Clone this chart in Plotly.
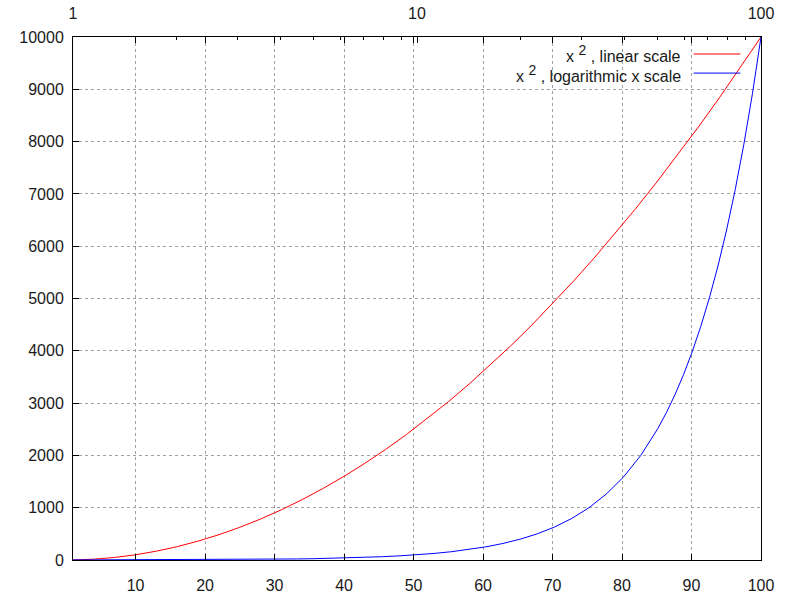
import plotly.graph_objects as go

# Red series: x^2 on the linear (bottom) x axis
lin_x = [1, 4, 7, 10, 13, 16, 19, 22, 25, 28, 31, 34, 37, 40, 43, 46, 49, 52, 55,
         58, 61, 64, 67, 70, 73, 76, 79, 82, 85, 88, 91, 94, 97, 100]
lin_y = [1, 16, 49, 100, 169, 256, 361, 484, 625, 784, 961, 1156, 1369, 1600, 1849,
         2116, 2401, 2704, 3025, 3364, 3721, 4096, 4489, 4900, 5329, 5776, 6241,
         6724, 7225, 7744, 8281, 8836, 9409, 10000]

# Blue series: x^2 on the logarithmic (top) x axis
log_x = [1, 1.122, 1.259, 1.413, 1.585, 1.778, 1.995, 2.239, 2.512, 2.818, 3.162,
         3.548, 3.981, 4.467, 5.012, 5.623, 6.310, 7.079, 7.943, 8.913, 10,
         11.22, 12.59, 14.13, 15.85, 17.78, 19.95, 22.39, 25.12, 28.18, 31.62,
         35.48, 39.81, 44.67, 50.12, 53.09, 56.23, 59.57, 63.10, 66.83, 70.79,
         74.99, 79.43, 84.14, 89.13, 94.41, 100]
log_y = [1, 1.259, 1.585, 1.995, 2.512, 3.162, 3.981, 5.012, 6.310, 7.943, 10,
         12.59, 15.85, 19.95, 25.12, 31.62, 39.81, 50.12, 63.10, 79.43, 100,
         125.9, 158.5, 199.5, 251.2, 316.2, 398.1, 501.2, 631.0, 794.3, 1000,
         1259, 1585, 1995, 2512, 2818, 3162, 3548, 3981, 4467, 5012,
         5623, 6310, 7079, 7943, 8913, 10000]

bottom_ticks = [10, 20, 30, 40, 50, 60, 70, 80, 90, 100]
top_ticks = [1, 10, 100]
top_minor = [2, 3, 4, 5, 6, 7, 8, 9, 20, 30, 40, 50, 60, 70, 80, 90]
y_ticks = [0, 1000, 2000, 3000, 4000, 5000, 6000, 7000, 8000, 9000, 10000]

legend_labels = ["x <sup><span style='font-size:14px'>2</span></sup> , linear scale",
                 "x <sup><span style='font-size:14px'>2</span></sup> , logarithmic x scale"]
colors = ["#ff0000", "#0000ff"]

FONT = "Liberation Sans, Arial, sans-serif"
GRID = "#a0a0a0"
TXT = "#1a1a1a"
tickfont = dict(family=FONT, size=16, color=TXT)

fig = go.Figure()
fig.add_trace(go.Scatter(x=lin_x, y=lin_y, mode="lines", xaxis="x", yaxis="y",
                         line=dict(color=colors[0], width=1), showlegend=False))
fig.add_trace(go.Scatter(x=log_x, y=log_y, mode="lines", xaxis="x2", yaxis="y",
                         line=dict(color=colors[1], width=1), showlegend=False))

fig.update_layout(
    width=800, height=600,
    margin=dict(l=73, r=39, t=37, b=40, autoexpand=False),
    paper_bgcolor="white", plot_bgcolor="white",
    font=dict(family=FONT, size=15, color=TXT),
    xaxis=dict(
        range=[1, 100], tickmode="array", tickvals=bottom_ticks,
        ticktext=[str(v) for v in bottom_ticks], tickfont=tickfont,
        ticks="inside", ticklen=6, tickcolor="black",
        showline=True, linecolor="black", linewidth=1, mirror="ticks",
        showgrid=True, gridcolor=GRID, griddash="dot", gridwidth=1,
        zeroline=False, ticklabelstandoff=11, automargin=False,
    ),
    xaxis2=dict(
        type="log", range=[0, 2], overlaying="x", side="top",
        tickmode="array", tickvals=top_ticks, ticktext=[str(v) for v in top_ticks],
        tickfont=tickfont,
        ticks="inside", ticklen=6, tickcolor="black",
        minor=dict(tickmode="array", tickvals=top_minor, ticks="inside",
                   ticklen=3, tickcolor="black", showgrid=False),
        showline=True, linecolor="black", linewidth=1,
        showgrid=False, zeroline=False, ticklabelstandoff=11, automargin=False,
    ),
    yaxis=dict(
        range=[0, 10000], tickmode="array", tickvals=y_ticks,
        ticktext=[str(v) for v in y_ticks], tickfont=tickfont,
        ticks="inside", ticklen=6, tickcolor="black",
        showline=True, linecolor="black", linewidth=1, mirror=True,
        showgrid=True, gridcolor=GRID, griddash="dot", gridwidth=1,
        zeroline=False, ticklabelstandoff=5, automargin=False,
    ),
)

# gnuplot-style key: text right-aligned, line sample to its right
key_y = [0.9675, 0.931]
for lab, col, ky in zip(legend_labels, colors, key_y):
    fig.add_annotation(xref="paper", yref="paper", x=0.886, y=ky, text=lab,
                       showarrow=False, xanchor="right", yanchor="middle",
                       font=dict(family=FONT, size=16, color=TXT))
    fig.add_shape(type="line", xref="paper", yref="paper", x0=0.902, x1=0.970,
                  y0=ky, y1=ky, line=dict(color=col, width=1))

fig.write_html("out.html")
